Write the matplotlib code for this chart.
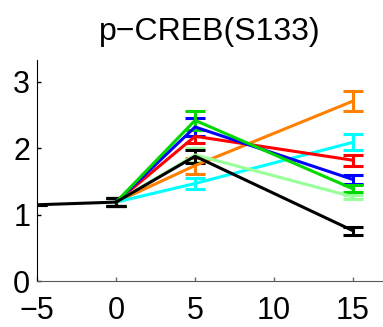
import matplotlib
matplotlib.use("Agg")
import matplotlib.pyplot as plt

plt.rcParams.update({
    "font.family": ["Liberation Sans", "DejaVu Sans"],
    "font.size": 20,
})

# time points (min)
t_base = [-5, 0]
y_base = [1.15, 1.19]
err_base = [0.0, 0.06]

t_pts = [0, 5, 15]
series_names = ["orange", "cyan", "red", "blue", "lightgreen", "green", "black"]
series_colors = {
    "orange": (1.0, 0.5, 0.0),
    "cyan": (0.0, 1.0, 1.0),
    "red": (1.0, 0.0, 0.0),
    "blue": (0.0, 0.0, 1.0),
    "lightgreen": (0.6, 1.0, 0.6),
    "green": (0.0, 0.85, 0.0),
    "black": (0.0, 0.0, 0.0),
}
means = {
    "orange": [1.19, 1.74, 2.71],
    "cyan": [1.19, 1.47, 2.09],
    "red": [1.19, 2.18, 1.82],
    "blue": [1.19, 2.32, 1.53],
    "lightgreen": [1.19, 1.90, 1.27],
    "green": [1.19, 2.42, 1.39],
    "black": [1.19, 1.88, 0.76],
}
errs = {
    "orange": [0.06, 0.12, 0.15],
    "cyan": [0.06, 0.08, 0.12],
    "red": [0.06, 0.10, 0.08],
    "blue": [0.06, 0.13, 0.07],
    "lightgreen": [0.06, 0.10, 0.03],
    "green": [0.06, 0.14, 0.05],
    "black": [0.06, 0.10, 0.06],
}

fig = plt.figure(figsize=(3.83, 3.27), dpi=100)
ax = fig.add_axes([0.097, 0.14, 0.903, 0.677])

for name in series_names:
    c = series_colors[name]
    ax.errorbar(t_pts, means[name], yerr=errs[name], color=c, lw=2.2,
                capsize=7, capthick=2.2, elinewidth=2.2)

ax.errorbar(t_base, y_base, yerr=err_base, color="k", lw=2.2,
            capsize=7, capthick=2.2, elinewidth=2.2)

ax.set_xlim(-5, 16.9)
ax.set_ylim(0, 3.33)
ax.set_xticks([-5, 0, 5, 10, 15])
ax.set_xticklabels(["\u22125", "0", "5", "10", "15"])
ax.set_yticks([0, 1, 2, 3])
ax.tick_params(direction="in", length=3, width=1, pad=5, labelsize=22)
ax.tick_params(axis="x", colors="0.4", labelcolor="k", pad=11)
ax.spines["top"].set_visible(False)
ax.spines["right"].set_visible(False)
ax.spines["bottom"].set_color("0.35")
ax.spines["left"].set_color("k")

ax.set_title("p\u2212CREB(S133)", fontsize=23, pad=14)

fig.savefig("out.png", dpi=100)
